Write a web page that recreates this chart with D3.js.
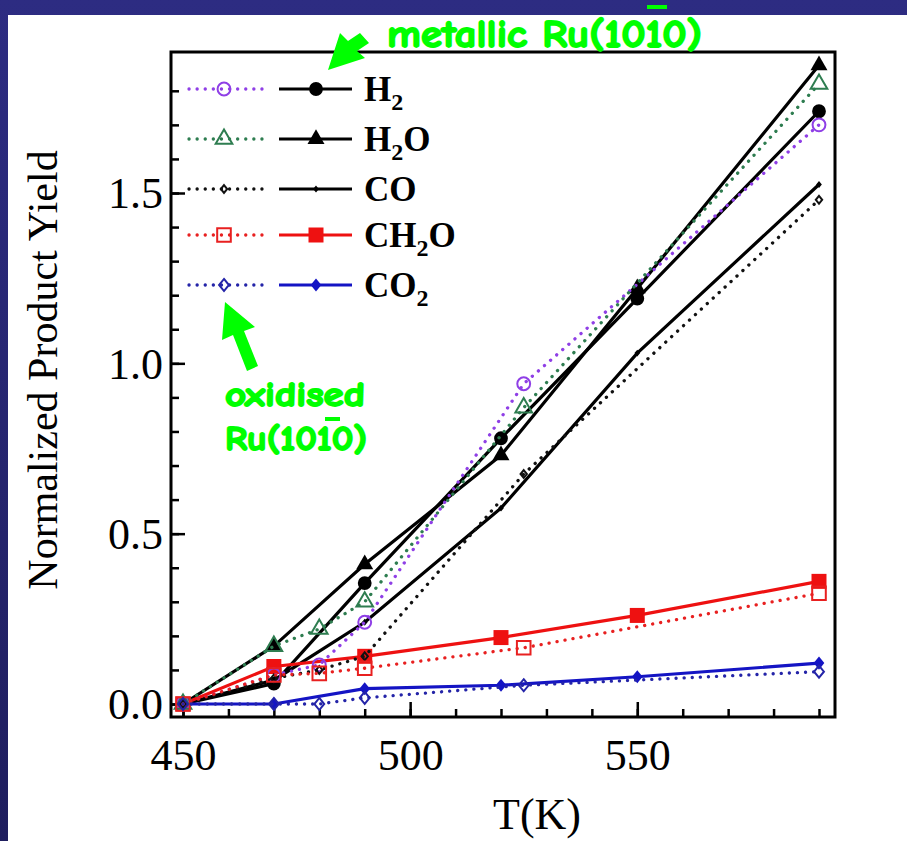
<!DOCTYPE html>
<html><head><meta charset="utf-8">
<script src="https://cdn.jsdelivr.net/npm/d3@7"></script>
<style>
html,body{margin:0;padding:0;background:#2b2b7e;}
svg{display:block;}
</style></head>
<body>
<svg id="chart" width="907" height="841"></svg>
<script>
// ---- data ----
const tempsMetal = [450, 470, 490, 520, 550, 590];
const h2Metal   = [0, 0.06, 0.355, 0.78, 1.19, 1.74];
const h2oMetal  = [0, 0.17, 0.41, 0.73, 1.22, 1.875];
const coMetal   = [0, 0.07, 0.24, 0.575, 1.03, 1.525];
const ch2oMetal = [0, 0.11, 0.14, 0.195, 0.26, 0.36];
const co2Metal  = [0, 0.0, 0.045, 0.055, 0.08, 0.12];

const tempsOx = [450, 470, 480, 490, 525, 590];
const h2Ox   = [0, 0.085, 0.115, 0.24, 0.94, 1.70];
const h2oOx  = [0, 0.17, 0.22, 0.30, 0.87, 1.82];
const coOx   = [0, 0.075, 0.10, 0.14, 0.675, 1.48];
const ch2oOx = [0, 0.085, 0.09, 0.105, 0.165, 0.325];
const co2Ox  = [0, 0.0, 0.0, 0.018, 0.055, 0.095];

const xTicks = [450, 500, 550];
const yTicks = [0.0, 0.5, 1.0, 1.5];
const xTitle = "T(K)";
const yTitle = "Normalized Product Yield";
const legendNames = [["H", "2", ""], ["H", "2", "O"], ["CO", "", ""], ["CH", "2", "O"], ["CO", "2", ""]];

// ---- setup ----
const svg = d3.select("#chart");
const W = 907, H = 841;
const defs = svg.append("defs");
const bg = defs.append("linearGradient").attr("id","bgGrad").attr("x1",0).attr("y1",0).attr("x2",0).attr("y2",1);
bg.append("stop").attr("offset","0%").attr("stop-color","#2d2c82");
bg.append("stop").attr("offset","100%").attr("stop-color","#1f1e5e");
svg.append("rect").attr("width",W).attr("height",H).attr("fill","url(#bgGrad)");
svg.append("rect").attr("x",8).attr("y",15).attr("width",W-8).attr("height",H-15).attr("fill","#ffffff");

const plot = {left:171, right:835, top:52, bottom:717};
const x = d3.scaleLinear().domain([450, 590]).range([183, 819]);
const y = d3.scaleLinear().domain([0, 1.5]).range([704, 193]);

const serif = "'Liberation Serif','Times New Roman',Times,serif";

// ticks (inside)
const g = svg.append("g");
const xMinor = d3.range(450, 591, 10);
const yMinor = d3.range(0, 19).map(i => i/10);
g.append("g").attr("transform",`translate(0,${plot.bottom})`)
  .call(d3.axisBottom(x).tickValues(xMinor).tickSize(-8).tickFormat(""))
  .call(a => a.select(".domain").remove())
  .call(a => a.selectAll("line").attr("stroke","#000").attr("stroke-width",2.5));
g.append("g").attr("transform",`translate(0,${plot.bottom})`)
  .call(d3.axisBottom(x).tickValues(xTicks).tickSize(-15).tickPadding(0).tickFormat(d3.format("d")))
  .call(a => a.select(".domain").remove())
  .call(a => a.selectAll("line").attr("stroke","#000").attr("stroke-width",2.5))
  .call(a => a.selectAll("text").attr("font-family",serif).attr("font-size",44).attr("fill","#000")
        .attr("y",0).attr("dy",0).attr("transform","translate(0,53)"));
g.append("g").attr("transform",`translate(${plot.left},0)`)
  .call(d3.axisLeft(y).tickValues(yMinor).tickSize(-8).tickFormat(""))
  .call(a => a.select(".domain").remove())
  .call(a => a.selectAll("line").attr("stroke","#000").attr("stroke-width",2.5));
g.append("g").attr("transform",`translate(${plot.left},0)`)
  .call(d3.axisLeft(y).tickValues(yTicks).tickSize(-14).tickFormat(d3.format(".1f")))
  .call(a => a.select(".domain").remove())
  .call(a => a.selectAll("line").attr("stroke","#000").attr("stroke-width",2.5))
  .call(a => a.selectAll("text").attr("font-family",serif).attr("font-size",44).attr("fill","#000")
        .attr("x",-8).attr("dy","0.34em"));

// frame
svg.append("rect").attr("x",plot.left).attr("y",plot.top)
  .attr("width",plot.right-plot.left).attr("height",plot.bottom-plot.top)
  .attr("fill","none").attr("stroke","#000").attr("stroke-width",3);

// axis titles
svg.append("text").attr("x",537).attr("y",829).attr("text-anchor","middle")
  .attr("font-family",serif).attr("font-size",44).attr("fill","#000").text(xTitle);
svg.append("text").attr("transform","translate(57,370) rotate(-90)").attr("text-anchor","middle")
  .attr("font-family",serif).attr("font-size",42).attr("fill","#000").text(yTitle);

// symbols
const diamond = { draw(ctx, size){ const w = Math.sqrt(size)/2*0.9, h = Math.sqrt(size)/2*1.1;
  ctx.moveTo(0,-h); ctx.lineTo(w,0); ctx.lineTo(0,h); ctx.lineTo(-w,0); ctx.closePath(); } };

const solidSeries = [
  {vals:h2Metal,   color:"#000000", sym:d3.symbolCircle,   size:150},
  {vals:h2oMetal,  color:"#000000", sym:d3.symbolTriangle, size:125},
  {vals:coMetal,   color:"#000000", sym:diamond,           size:40},
  {vals:ch2oMetal, color:"#ee1111", sym:d3.symbolSquare,   size:225},
  {vals:co2Metal,  color:"#1414c4", sym:diamond,           size:140}
];
const oxSeries = [
  {vals:h2Ox,   color:"#8f3fe6", sym:d3.symbolCircle,   size:130},
  {vals:h2oOx,  color:"#2e7d50", sym:d3.symbolTriangle, size:120},
  {vals:coOx,   color:"#111111", sym:diamond,           size:50},
  {vals:ch2oOx, color:"#e82020", sym:d3.symbolSquare,   size:185},
  {vals:co2Ox,  color:"#2424a8", sym:diamond,           size:120}
];

const line = d3.line().x(d => x(d[0])).y(d => y(d[1]));
const dataG = svg.append("g");

solidSeries.forEach(s => {
  const pts = tempsMetal.map((t,i) => [t, s.vals[i]]);
  dataG.append("path").attr("d", line(pts)).attr("fill","none")
    .attr("stroke", s.color).attr("stroke-width", 3.2);
  dataG.selectAll(null).data(pts).enter().append("path")
    .attr("transform", d => `translate(${x(d[0])},${y(d[1])})`)
    .attr("d", d3.symbol().type(s.sym).size(s.size)).attr("fill", s.color);
});
oxSeries.forEach(s => {
  const pts = tempsOx.map((t,i) => [t, s.vals[i]]);
  dataG.append("path").attr("d", line(pts)).attr("fill","none")
    .attr("stroke", s.color).attr("stroke-width", 3.3)
    .attr("stroke-dasharray","0.1,8").attr("stroke-linecap","round");
  dataG.selectAll(null).data(pts).enter().append("path")
    .attr("transform", d => `translate(${x(d[0])},${y(d[1])})`)
    .attr("d", d3.symbol().type(s.sym).size(s.size)).attr("fill","none")
    .attr("stroke", s.color).attr("stroke-width", 2);
});

// legend
const rowsY = [89, 139, 189, 235, 285];
const leg = svg.append("g");
legendNames.forEach((nm, i) => {
  const ry = rowsY[i];
  const o = oxSeries[i], s = solidSeries[i];
  leg.append("line").attr("x1",189).attr("x2",262).attr("y1",ry).attr("y2",ry)
    .attr("stroke",o.color).attr("stroke-width",3.3).attr("stroke-dasharray","0.1,8").attr("stroke-linecap","round");
  leg.append("path").attr("transform",`translate(224,${ry})`)
    .attr("d", d3.symbol().type(o.sym).size(o.size)).attr("fill","none").attr("stroke",o.color).attr("stroke-width",2);
  leg.append("line").attr("x1",279).attr("x2",352).attr("y1",ry).attr("y2",ry)
    .attr("stroke",s.color).attr("stroke-width",3.2);
  leg.append("path").attr("transform",`translate(316,${ry})`)
    .attr("d", d3.symbol().type(s.sym).size(s.size)).attr("fill",s.color);
  const t = leg.append("text").attr("x",364).attr("y",ry+12)
    .attr("font-family",serif).attr("font-weight","bold").attr("font-size",35).attr("fill","#000");
  t.append("tspan").text(nm[0]);
  if (nm[1]) t.append("tspan").attr("font-size",24).attr("dy",9).text(nm[1]);
  if (nm[2]) t.append("tspan").attr("dy",-9).text(nm[2]);
});

// annotations
const green = "#00ff00";
const comic = "'Comic Sans MS','Comic Neue','DejaVu Sans',sans-serif";
function gText(tx, ty, len, fs, str){
  return svg.append("text").attr("x",tx).attr("y",ty).attr("font-family",comic).attr("font-weight","bold")
    .attr("font-size",fs).attr("fill",green).attr("stroke",green).attr("stroke-width",1.8)
    .attr("stroke-linejoin","round")
    .attr("textLength",len).attr("lengthAdjust","spacingAndGlyphs").text(str);
}
gText(387, 47, 315, 38, "metallic Ru(1010)");
svg.append("rect").attr("x",647).attr("y",5).attr("width",20).attr("height",4).attr("fill",green);
gText(225, 406, 140, 34, "oxidised");
gText(225, 450, 142, 34, "Ru(1010)");
svg.append("rect").attr("x",325).attr("y",417).attr("width",15).attr("height",4).attr("fill",green);

// arrows
svg.append("path").attr("d","M328,70 L340,33 L348,41 L360,33 L369,43 L357,51 L365,58 Z").attr("fill",green);
svg.append("path").attr("d","M225,302 L255,327 L244,331 L258,366 L247,371 L233,335 L222,340 Z").attr("fill",green);
</script>
</body></html>
